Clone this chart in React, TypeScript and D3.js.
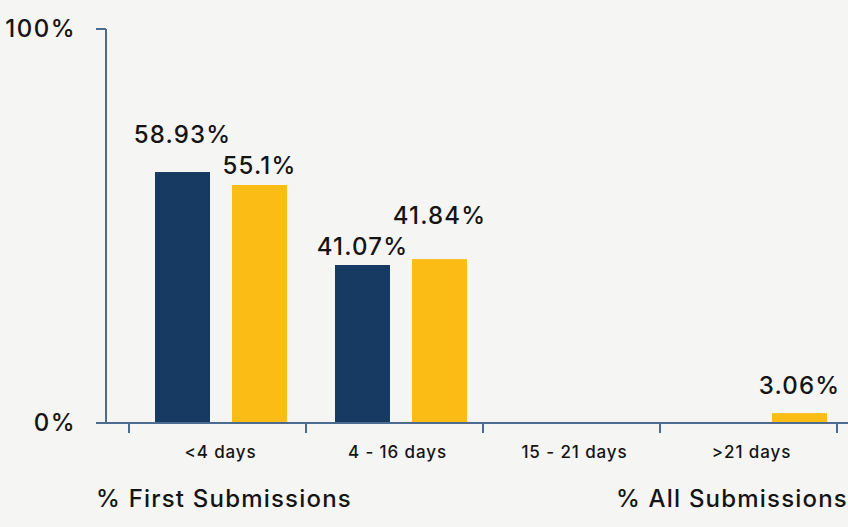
import React from "react";
import * as d3 from "d3";

const categories = ["<4 days", "4 - 16 days", "15 - 21 days", ">21 days"];
const seriesNames = ["% First Submissions", "% All Submissions"];
// bar heights as drawn in the picture (percent)
const firstValues = [63.7, 40.1, 0, 0];
const allValues = [60.4, 41.6, 0, 2.5];
// value labels printed above the bars
const firstLabels = ["58.93%", "41.07%", "", ""];
const allLabels = ["55.1%", "41.84%", "", "3.06%"];
const yTicks = [0, 100];

const W = 848;
const H = 527;
const BG = "#f5f5f3";
const DARK = "#173a63";
const YELLOW = "#fbbc16";
const AXIS = "#4b6b90";
const TEXT = "#141414";
const FONT = "Inter, 'Open Sans', sans-serif";

// label gaps above bar tops (style config)
const firstLabelGap = [29, 10, 0, 0];
const allLabelGap = [11, 35, 0, 19];

export default function App() {
  const y = d3.scaleLinear().domain([0, 100]).range([423, 29]);
  const x = d3.scaleBand<string>().domain(categories).range([131, 851]).paddingInner(0).paddingOuter(0);
  const tickX = d3.scalePoint<number>().domain(d3.range(categories.length + 1)).range([129, 837]);
  const bw = 55;
  const gap = 22;
  const series = [
    { vals: firstValues, labels: firstLabels, gaps: firstLabelGap, color: DARK, off: -(gap / 2 + bw) },
    { vals: allValues, labels: allLabels, gaps: allLabelGap, color: YELLOW, off: gap / 2 },
  ];
  const x0 = y.range()[0];
  return (
    <svg width={W} height={H} style={{ position: "absolute", left: 0, top: 0, background: BG }} fontFamily={FONT} fontWeight={500}>
      <rect x={0} y={0} width={W} height={H} fill={BG} />
      {series.map((s, si) =>
        categories.map((c, i) => {
          const cx = (x(c) as number) + x.bandwidth() / 2;
          const v = s.vals[i];
          if (v <= 0) return null;
          const bx = cx + s.off;
          return (
            <g key={`${si}-${i}`}>
              <rect x={bx} y={y(v)} width={bw} height={x0 - y(v)} fill={s.color} />
              {s.labels[i] && (
                <text x={bx + bw / 2} y={y(v) - s.gaps[i]} textAnchor="middle" fontSize={24} letterSpacing={1.2} fill={TEXT}>
                  {s.labels[i]}
                </text>
              )}
            </g>
          );
        })
      )}
      {/* y axis */}
      <line x1={106} x2={106} y1={y(100)} y2={y(0)} stroke={AXIS} strokeWidth={2} />
      {yTicks.map((t) => (
        <g key={t}>
          <line x1={96} x2={106} y1={y(t)} y2={y(t)} stroke={AXIS} strokeWidth={2} />
          <text x={76} y={y(t) + 8} textAnchor="end" fontSize={24} letterSpacing={1.5} fill={TEXT}>
            {t}%
          </text>
        </g>
      ))}
      {/* x axis */}
      <line x1={96} x2={W} y1={y(0)} y2={y(0)} stroke={AXIS} strokeWidth={2} />
      {tickX.domain().map((t) => (
        <line key={t} x1={tickX(t)} x2={tickX(t)} y1={y(0)} y2={y(0) + 10} stroke={AXIS} strokeWidth={2} />
      ))}
      {categories.map((c, i) => (
        <text
          key={c}
          x={((tickX(i) as number) + (tickX(i + 1) as number)) / 2 + 3}
          y={458}
          textAnchor="middle"
          fontSize={17}
          letterSpacing={0.9}
          fill={TEXT}
        >
          {c}
        </text>
      ))}
      {/* series legend labels */}
      <text x={96} y={507} fontSize={24} letterSpacing={1.2} fill={TEXT}>{seriesNames[0]}</text>
      <text x={W} y={507} textAnchor="end" fontSize={24} letterSpacing={1.2} fill={TEXT}>{seriesNames[1]}</text>
    </svg>
  );
}
